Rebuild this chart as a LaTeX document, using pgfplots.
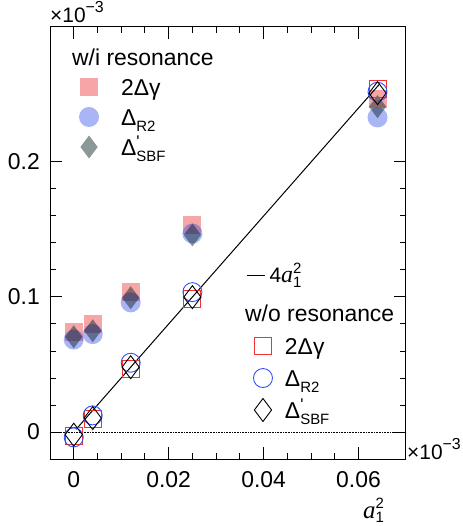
\documentclass[border=0pt]{standalone}
\usepackage{pgfplots}
\pgfplotsset{compat=1.18}
\usepackage{fontspec}
\setmainfont{Liberation Sans}
\newfontfamily\tms{Liberation Serif}
\newfontfamily\rawsans{Liberation Sans}[Ligatures=TeXOff]
\definecolor{pinkc}{RGB}{228,0,0}
\definecolor{bluec}{RGB}{40,70,230}
\definecolor{grayc}{RGB}{0,26,26}
\definecolor{redo}{RGB}{240,50,50}
\definecolor{blueo}{RGB}{50,80,250}
\newcommand\F[1]{\fontsize{#1}{#1}\selectfont}
\newcommand\sub[1]{\raisebox{-6bp}{\F{15}#1}}
\newcommand\prm{\rlap{\raisebox{8bp}{\rawsans\F{17}'}}}
\newcommand\tenm{×10\raisebox{10bp}{\F{16}−3}}
\pgfplotsset{
  base/.style={scale only axis, width=356bp, height=432bp,
    xmin=-0.005, xmax=0.07, ymin=-0.02, ymax=0.3},
  markleg/.style={legend image code/.code={\path[draw=none,fill=none] (0bp,0bp) (#1,0bp);\draw[overlay,##1] plot coordinates {(9bp,0bp)};}},
  lineleg/.style={legend image code/.code={\draw[##1] (0bp,0bp) -- (18bp,0bp); \path[draw=none,fill=none] (0bp,0bp) (23bp,0bp);}},
  legstyle/.style={legend cell align=left, legend style={draw=none, fill=none, inner sep=0pt, outer sep=0pt, anchor=north west, font=\F{23}, nodes={inner sep=0pt, text height=17bp, text depth=0.5bp}, row sep=#1}},
}
\begin{document}
\begin{tikzpicture}
\begin{axis}[base, name=main,
  axis line style={line width=1bp},
  every tick/.style={black, line width=1bp},
  tick align=inside, major tick length=12bp, minor tick length=6bp,
  xtick={0,0.02,0.04,0.06}, xticklabels={0,0.02,0.04,0.06},
  ytick={0,0.1,0.2}, yticklabels={0,0.1,0.2},
  minor x tick num=3, minor y tick num=4, scaled ticks=false,
  /pgf/number format/assume math mode=true,
  ticklabel style={font=\F{23}, inner sep=0pt},
  xticklabel style={yshift=-12.5bp}, yticklabel style={xshift=-10bp},
  legstyle=12.5bp,
  legend style={at={(axis description cs:0.0843,0.8814)}}]
\addplot[only marks, mark=square*, mark size=9bp, color=pinkc, mark options={fill opacity=0.35, draw opacity=0}, markleg=41bp]
  coordinates {(0,0.074) (0.004,0.080) (0.012,0.104) (0.025,0.153) (0.064,0.247)};
\addlegendentry{2Δγ}
\addplot[only marks, mark=*, mark size=10bp, color=bluec, mark options={fill opacity=0.4, draw opacity=0}, markleg=41bp]
  coordinates {(0,0.0685) (0.004,0.0725) (0.012,0.096) (0.025,0.147) (0.064,0.233)};
\addlegendentry{Δ\sub{R2}}
\addplot[only marks, mark=diamond*, mark size=11.5bp, color=grayc, mark options={fill opacity=0.45, draw opacity=0}, markleg=41bp]
  coordinates {(0,0.0705) (0.004,0.075) (0.012,0.0995) (0.025,0.146) (0.064,0.241)};
\addlegendentry{Δ\prm\sub{SBF}}
\addplot[densely dotted, line width=0.6bp, black, forget plot] coordinates {(-0.005,0) (0.068,0)};
\end{axis}
\begin{axis}[base, hide axis, legstyle=0bp,
  legend style={at={(axis description cs:0.5506,0.4426)}, font=\F{21}, nodes={text height=15bp, text depth=0.4bp}}]
\addplot[black, line width=1bp, lineleg]
  coordinates {(0.0005,0.002) (0.0645,0.258)};
\addlegendentry{4{\tms\itshape\F{24}a}\rlap{\raisebox{9bp}{\F{15}2}}\raisebox{-5bp}{\F{15}1}}
\end{axis}
\begin{axis}[base, hide axis, legstyle=14.5bp,
  legend style={at={(axis description cs:0.5730,0.2818)}}]
\addplot[only marks, mark=square, mark size=8.5bp, color=redo, mark options={line width=1bp}, markleg=31bp]
  coordinates {(0,-0.003) (0.004,0.0098) (0.012,0.0464) (0.025,0.0987) (0.064,0.254)};
\addlegendentry{2Δγ}
\addplot[only marks, mark=o, mark size=9.5bp, color=blueo, mark options={line width=0.9bp}, markleg=31bp]
  coordinates {(0,-0.004) (0.004,0.0123) (0.012,0.0513) (0.025,0.1036) (0.064,0.252)};
\addlegendentry{Δ\sub{R2}}
\addplot[only marks, mark=diamond, mark size=11.5bp, color=black, mark options={line width=0.9bp}, markleg=31bp]
  coordinates {(0,-0.002) (0.004,0.0103) (0.012,0.048) (0.025,0.0999) (0.064,0.251)};
\addlegendentry{Δ\prm\sub{SBF}}
\end{axis}
\node[anchor=base west, font=\F{23}, inner sep=0pt] at ([shift={(22bp,-38.4bp)}]main.north west) {w/i resonance};
\node[anchor=base west, font=\F{23}, inner sep=0pt] at ([shift={(195bp,-294.4bp)}]main.north west) {w/o resonance};
\node[anchor=base west, font=\F{21}, inner sep=0pt] at ([shift={(0bp,4bp)}]main.north west) {\tenm};
\node[anchor=base west, font=\F{21}, inner sep=0pt] at ([shift={(1bp,0bp)}]main.south east) {\tenm};
\node[anchor=base west, inner sep=0pt] at ([shift={(313bp,-59bp)}]main.south west) {{\tms\itshape\F{25}a}\rlap{\raisebox{10bp}{\F{15}2}}\raisebox{-4bp}{\F{15}1}};
\pgfresetboundingbox
\path ([shift={(-50bp,-67bp)}]main.south west) rectangle ([shift={(57bp,27bp)}]main.north east);
\end{tikzpicture}
\end{document}
